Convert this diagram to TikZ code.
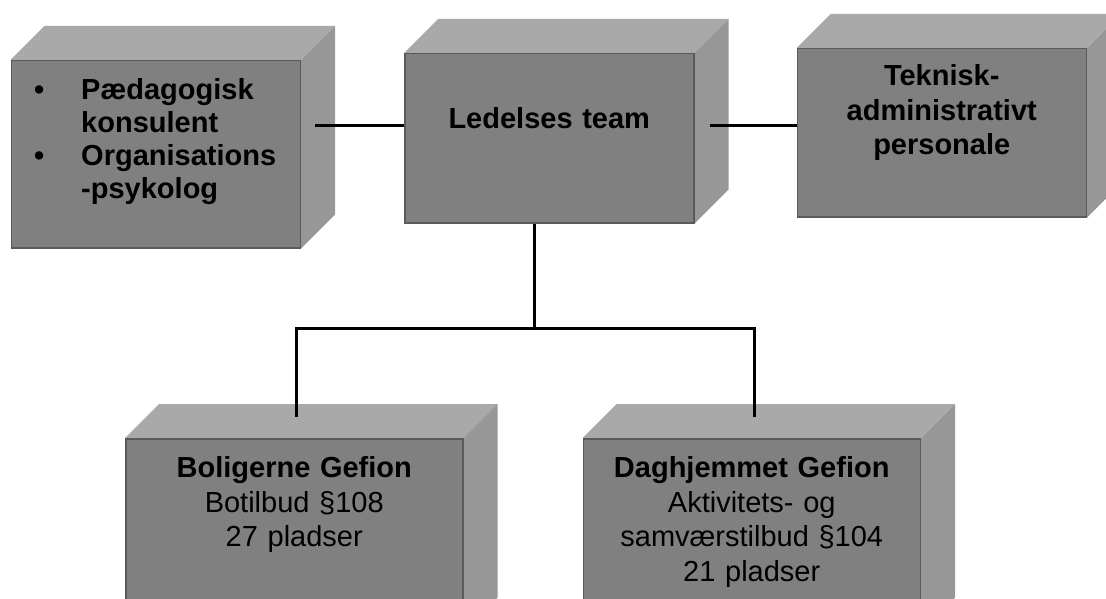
\documentclass[tikz,border=0pt]{standalone}
\usepackage{fontspec}
\setmainfont{Liberation Sans}
\usetikzlibrary{positioning, calc, backgrounds}
\definecolor{unitfront}{HTML}{808080}
\definecolor{unittop}{HTML}{A9A9A9}
\definecolor{unitside}{HTML}{979797}
\definecolor{unitedge}{HTML}{5A5A5A}
\newcommand{\orgfont}{\fontsize{29}{34.5}\selectfont}

\begin{document}
\begin{tikzpicture}[
    x=1pt, y=-1pt,
    unit/.style={rectangle, draw=unitedge, fill=unitfront, line width=1.5pt, inner sep=0pt, text width=#1, align=center, font=\orgfont},
    unit/.default=289pt,
    lead/.style={unit, font=\orgfont\bfseries},
    link/.style={line width=3pt, draw=black}
]
\useasboundingbox (0,0) rectangle (1106,599);
% top row
\node[lead, anchor=north west, text height=75pt, text depth=94pt] (b) at (404,53) {Ledelses team};
\node[lead, align=left, left=103pt of b.north west, anchor=north east, yshift=-7pt, text height=39pt, text depth=148pt, font=\fontsize{29}{33}\selectfont\bfseries] (a) {\begin{tabular}[t]{@{\hspace{23pt}}p{47pt}@{}l@{}}\textbullet & Pædagogisk\\ & konsulent\\ \textbullet & Organisations\\ & -psykolog\end{tabular}};
\node[lead, right=102pt of b.north east, anchor=north west, yshift=5pt, text height=37pt, text depth=131pt] (c) {Teknisk-\\administrativt\\personale};
% bottom row
\node[unit=337pt, anchor=north west, text height=39pt, text depth=153pt] (d) at (125,438) {\textbf{Boligerne Gefion}\\Botilbud §108\\27 pladser};
\node[unit=337pt, right=119pt of d, text height=39pt, text depth=153pt] (e) {\textbf{Daghjemmet Gefion}\\Aktivitets- og\\samværstilbud §104\\21 pladser};
% 3d faces
\begin{scope}[on background layer]
\foreach \n in {a,b,c,d,e} {
  \fill[unittop] (\n.north west) -- ++(34,-34) -- ($(\n.north east)+(34,-34)$) -- (\n.north east) -- cycle;
  \fill[unitside] (\n.north east) -- ++(34,-34) -- ($(\n.south east)+(34,-34)$) -- (\n.south east) -- cycle;
}
\end{scope}
% connectors
\draw[link] ($(a.east |- b.north)+(14,73)$) -- ($(b.north west)+(0,73)$);
\draw[link] ($(b.north east)+(15,73)$) -- ($(c.west |- b.north)+(0,73)$);
\coordinate (fork) at ($(b.south)+(-14.5,105)$);
\draw[link] (b.south -| fork) -- (fork);
\draw[link] ($(d.north)+(2.5,-21)$) |- (fork) -| ($(e.north)+(2.5,-21)$);
\end{tikzpicture}
\end{document}
